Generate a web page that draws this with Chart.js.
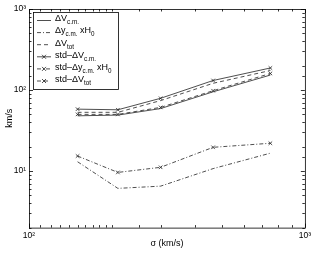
<!DOCTYPE html>
<html>
<head>
<meta charset="utf-8">
<script src="https://cdn.jsdelivr.net/npm/chart.js@4"></script>
<style>
  html, body { margin: 0; padding: 0; background: #fff; }
  #wrap { width: 314px; height: 253px; }
</style>
</head>
<body>
<div id="wrap"><canvas id="sigmaChart" width="314" height="253"></canvas></div>
<script>
// sigma bins (km/s) and the six curves (km/s)
const sigma = [150, 210, 300, 465, 750];
const dVcm = [48, 49, 59, 95, 153];
const dycmH0 = [13, 6.1, 6.5, 10.7, 16.6];
const dVtot = [53, 53, 74, 121, 174];
const stdVcm = [58, 57, 79, 131, 187];
const stdycmH0 = [15.3, 9.6, 11.1, 19.6, 22];
const stdVtot = [50, 50, 61, 98, 160];

const xTickLabels = { 100: '10²', 1000: '10³' };
const yTickLabels = { 10: '10¹', 100: '10²', 1000: '10³' };

// legend text pieces: [text, isSubscript]
const legendText = [
  [['ΔV', 0], ['c.m.', 1]],
  [['Δy', 0], ['c.m.', 1], [' xH', 0], ['0', 1]],
  [['ΔV', 0], ['tot', 1]],
  [['std–ΔV', 0], ['c.m.', 1]],
  [['std–Δy', 0], ['c.m.', 1], [' xH', 0], ['0', 1]],
  [['std–ΔV', 0], ['tot', 1]]
];

const FONT = '"Liberation Sans", Arial, sans-serif';
const ink = '#222';
const DASH = [4, 3];
const DASHDOT = [4, 2, 1, 2];

function series(vals, dash, marks) {
  return {
    data: sigma.map((s, i) => ({ x: s, y: vals[i] })),
    borderColor: ink,
    borderWidth: 0.8,
    borderDash: dash,
    pointStyle: 'crossRot',
    pointRadius: marks ? 2.5 : 0,
    pointBorderColor: ink,
    pointBorderWidth: 0.8,
    tension: 0,
    fill: false
  };
}

const frameTicks = {
  id: 'frameTicks',
  afterDatasetsDraw(chart) {
    const { ctx, chartArea: a, scales } = chart;
    ctx.save();
    ctx.strokeStyle = '#000';
    ctx.lineWidth = 0.8;
    ctx.strokeRect(a.left + 0.5, a.top + 0.5, a.right - a.left, a.bottom - a.top);
    ctx.beginPath();
    scales.x.ticks.forEach(t => {
      const px = Math.round(scales.x.getPixelForValue(t.value)) + 0.5;
      const len = xTickLabels[t.value] ? 4 : 2.5;
      ctx.moveTo(px, a.bottom); ctx.lineTo(px, a.bottom - len);
      ctx.moveTo(px, a.top); ctx.lineTo(px, a.top + len);
    });
    scales.y.ticks.forEach(t => {
      const py = Math.round(scales.y.getPixelForValue(t.value)) + 0.5;
      const len = yTickLabels[t.value] ? 4 : 2.5;
      ctx.moveTo(a.left, py); ctx.lineTo(a.left + len, py);
      ctx.moveTo(a.right, py); ctx.lineTo(a.right - len, py);
    });
    ctx.stroke();
    ctx.restore();
  }
};

const boxLegend = {
  id: 'boxLegend',
  afterDraw(chart) {
    const { ctx } = chart;
    const x0 = 33, y0 = 12, w = 85, h = 77;
    ctx.save();
    ctx.fillStyle = '#fff';
    ctx.fillRect(x0, y0, w, h);
    ctx.strokeStyle = '#000';
    ctx.lineWidth = 0.8;
    ctx.strokeRect(x0 + 0.5, y0 + 0.5, w, h);
    chart.data.datasets.forEach((ds, i) => {
      const yc = 20.5 + 12.1 * i;
      ctx.strokeStyle = ink;
      ctx.lineWidth = 0.8;
      ctx.setLineDash(ds.borderDash || []);
      ctx.beginPath();
      ctx.moveTo(37, yc); ctx.lineTo(51, yc);
      ctx.stroke();
      ctx.setLineDash([]);
      if (ds.pointRadius > 0) {
        ctx.beginPath();
        ctx.moveTo(42, yc - 2); ctx.lineTo(46, yc + 2);
        ctx.moveTo(42, yc + 2); ctx.lineTo(46, yc - 2);
        ctx.stroke();
      }
      let tx = 55;
      ctx.fillStyle = '#000';
      ctx.textBaseline = 'alphabetic';
      legendText[i].forEach(([s, sub]) => {
        ctx.font = (sub ? '6.3px ' : '9px ') + FONT;
        ctx.fillText(s, tx, sub ? yc + 3.8 : yc + 0.8);
        tx += ctx.measureText(s).width;
      });
    });
    ctx.restore();
  }
};

new Chart(document.getElementById('sigmaChart').getContext('2d'), {
  type: 'line',
  data: {
    datasets: [
      series(dVcm, [], false),
      series(dycmH0, DASHDOT, false),
      series(dVtot, DASH, false),
      series(stdVcm, [], true),
      series(stdycmH0, DASHDOT, true),
      series(stdVtot, DASH, true)
    ]
  },
  options: {
    responsive: false,
    animation: false,
    devicePixelRatio: 1,
    layout: { padding: { top: 9, right: 9, left: 0, bottom: 0 } },
    plugins: { legend: { display: false }, tooltip: { enabled: false } },
    scales: {
      x: {
        type: 'logarithmic',
        min: 100,
        max: 1000,
        afterFit: s => { s.height = 25.4; },
        grid: { display: false, drawTicks: false },
        border: { display: false },
        ticks: {
          autoSkip: false,
          maxRotation: 0,
          padding: 3,
          color: '#000',
          font: { family: FONT, size: 8.5 },
          callback: v => xTickLabels[v] || ''
        },
        title: {
          display: true,
          text: 'σ (km/s)',
          color: '#000',
          font: { family: FONT, size: 9 },
          padding: { top: 0, bottom: 4 }
        }
      },
      y: {
        type: 'logarithmic',
        min: 2,
        max: 1000,
        afterFit: s => { s.width = 29; },
        grid: { display: false, drawTicks: false },
        border: { display: false },
        ticks: {
          autoSkip: false,
          padding: 3,
          color: '#000',
          font: { family: FONT, size: 8.5 },
          callback: v => yTickLabels[v] || ''
        },
        title: {
          display: true,
          text: 'km/s',
          color: '#000',
          font: { family: FONT, size: 9 },
          padding: { top: 4, bottom: 0 }
        }
      }
    }
  },
  plugins: [frameTicks, boxLegend]
});
</script>
</body>
</html>
